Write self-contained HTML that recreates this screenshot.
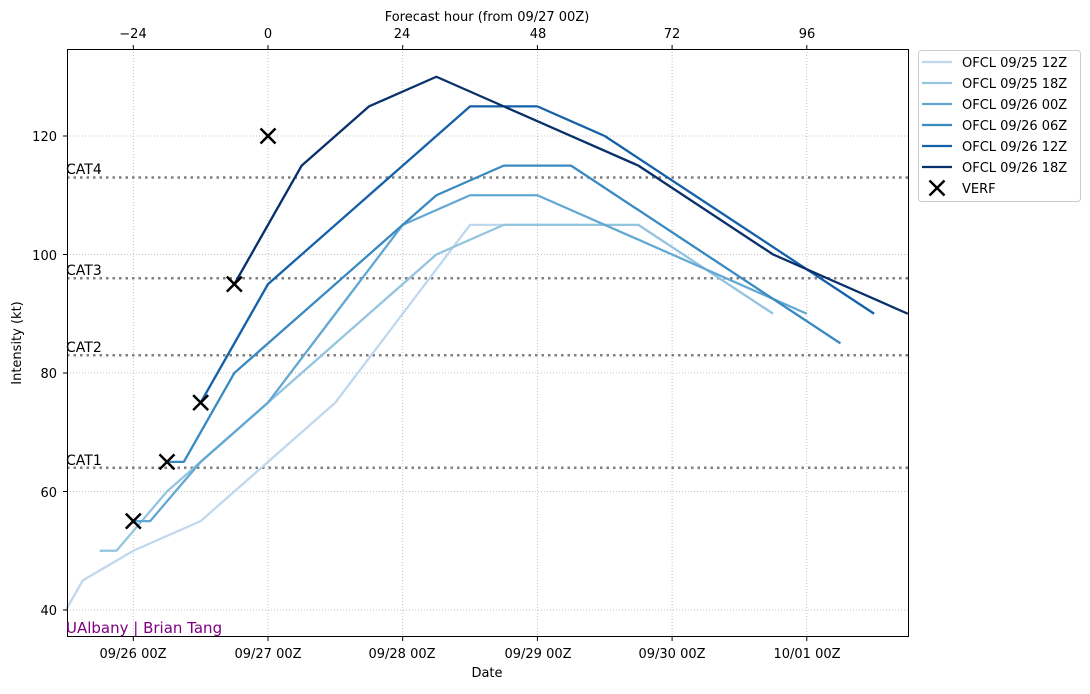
<!DOCTYPE html>
<html><head><meta charset="utf-8"><style>
body{margin:0;background:#fff;font-family:"DejaVu Sans","Liberation Sans",sans-serif}
svg text{font-family:"DejaVu Sans","Liberation Sans",sans-serif}
</style></head><body>
<svg id="s" width="1090" height="690" xmlns="http://www.w3.org/2000/svg">
<rect x="0" y="0" width="1090" height="690" fill="#fff"/>
<g id="grid" stroke="#b0b0b0" stroke-width="0.8" stroke-dasharray="1,2"></g>
<g id="cats" stroke="#808080" stroke-width="2.5" stroke-dasharray="2.5,4"></g>
<g font-size="14" fill="#000">
<text x="66" y="465">CAT1</text><text x="66" y="352">CAT2</text><text x="66" y="275">CAT3</text><text x="66" y="174">CAT4</text>
</g>
<g id="series" fill="none" stroke-width="2.3" stroke-linejoin="round"></g>
<g id="verf" stroke="#000" stroke-width="2.5"></g>
<rect x="67.5" y="49.5" width="841" height="587" fill="none" stroke="#000" stroke-width="1"/>
<g id="ticks" stroke="#000" stroke-width="1"></g>
<g font-size="13" fill="#000" text-anchor="middle">
<text x="133" y="658">09/26 00Z</text><text x="268" y="658">09/27 00Z</text><text x="402" y="658">09/28 00Z</text>
<text x="538" y="658">09/29 00Z</text><text x="672" y="658">09/30 00Z</text><text x="807" y="658">10/01 00Z</text>
<text x="487" y="677">Date</text>
<text x="133" y="38">−24</text><text x="268" y="38">0</text><text x="402" y="38">24</text>
<text x="538" y="38">48</text><text x="672" y="38">72</text><text x="807" y="38">96</text>
<text x="487" y="21">Forecast hour (from 09/27 00Z)</text>
<text transform="translate(21,343) rotate(-90)">Intensity (kt)</text>
</g>
<g font-size="13" fill="#000" text-anchor="end">
<text x="57" y="615">40</text><text x="57" y="497">60</text><text x="57" y="378">80</text>
<text x="57" y="260">100</text><text x="57" y="141">120</text>
</g>
<text x="66" y="633" font-size="15" fill="#800080">UAlbany | Brian Tang</text>
<rect x="918.5" y="50.5" width="162" height="151" rx="3" fill="#fff" stroke="#ccc"/>
<g id="leg"></g>
<g font-size="13" fill="#000">
<text x="962" y="67">OFCL 09/25 12Z</text><text x="962" y="88">OFCL 09/25 18Z</text>
<text x="962" y="109">OFCL 09/26 00Z</text><text x="962" y="130">OFCL 09/26 06Z</text>
<text x="962" y="151">OFCL 09/26 12Z</text><text x="962" y="172">OFCL 09/26 18Z</text>
<text x="962" y="193">VERF</text>
</g>
</svg>
<script>
const NS="http://www.w3.org/2000/svg";
const X=h=>268+h*5.6125, Y=v=>136+(120-v)*5.925;
function el(p,t,a){const e=document.createElementNS(NS,t);for(const k in a)e.setAttribute(k,a[k]);document.getElementById(p).appendChild(e);return e;}
[-24,0,24,48,72,96].forEach(h=>{el("grid","line",{x1:X(h),x2:X(h),y1:49,y2:637});el("ticks","line",{x1:X(h),x2:X(h),y1:637,y2:641});el("ticks","line",{x1:X(h),x2:X(h),y1:49,y2:45});});
[40,60,80,100,120].forEach(v=>{el("grid","line",{x1:67,x2:909,y1:Y(v),y2:Y(v)});el("ticks","line",{x1:63,x2:67,y1:Y(v),y2:Y(v)});});
[64,83,96,113].forEach(v=>el("cats","line",{x1:67,x2:909,y1:Y(v),y2:Y(v)}));
const S=[
["#c0d8ed",[[-36,40],[-33,45],[-24,50],[-12,55],[0,65],[12,75],[36,105],[60,105]]],
["#94c4df",[[-30,50],[-27,50],[-18,60],[-6,70],[6,80],[18,90],[30,100],[42,105],[66,105],[90,90]]],
["#62a8d3",[[-24,55],[-21,55],[-12,65],[0,75],[12,90],[24,105],[36,110],[48,110],[72,100],[96,90]]],
["#3a8ac2",[[-18,65],[-15,65],[-6,80],[6,90],[18,100],[30,110],[42,115],[54,115],[78,100],[102,85]]],
["#1561a9",[[-12,75],[-9,80],[0,95],[12,105],[24,115],[36,125],[48,125],[60,120],[84,105],[108,90]]],
["#08306b",[[-6,95],[-3,100],[6,115],[18,125],[30,130],[42,125],[66,115],[90,100],[114,90]]]];
S.forEach((s,i)=>{el("series","polyline",{stroke:s[0],points:s[1].map(p=>X(p[0])+","+Y(p[1])).join(" ")});
el("leg","line",{x1:922,x2:952,y1:62+i*21,y2:62+i*21,stroke:s[0],"stroke-width":2.3});});
function cross(g,x,y,r){el(g,"line",{x1:x-r,y1:y-r,x2:x+r,y2:y+r,stroke:"#000","stroke-width":2.5});el(g,"line",{x1:x-r,y1:y+r,x2:x+r,y2:y-r,stroke:"#000","stroke-width":2.5});}
[[-24,55],[-18,65],[-12,75],[-6,95],[0,120]].forEach(p=>cross("verf",X(p[0]),Y(p[1]),7.5));
cross("leg",937,188,7.5);
</script>
</body></html>
